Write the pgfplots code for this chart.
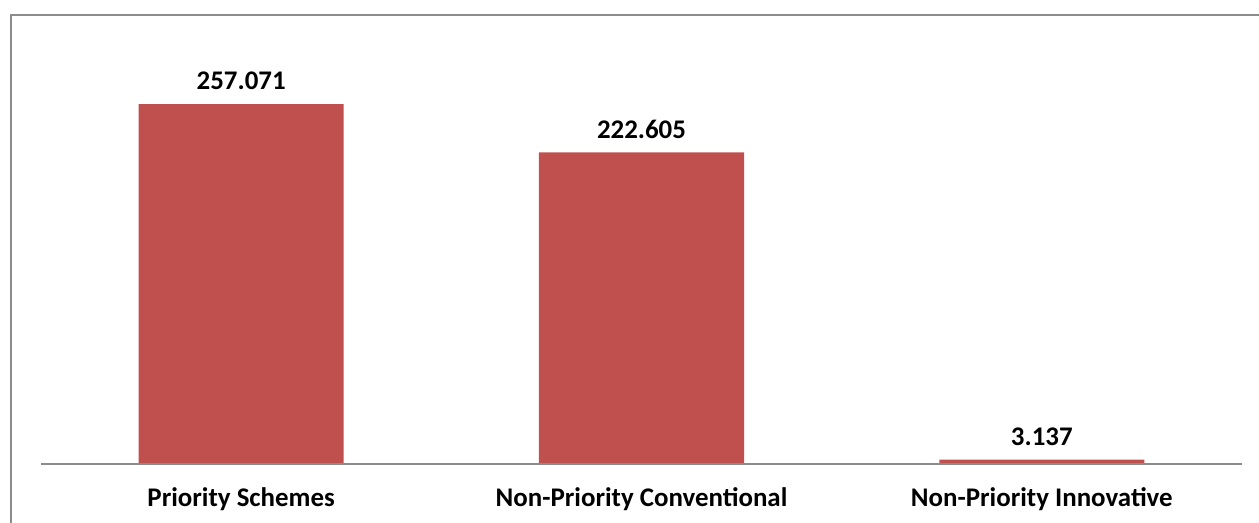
\documentclass[border=0pt]{standalone}
\usepackage{pgfplots}
\pgfplotsset{compat=1.18}
\usepackage{fontspec}
\setmainfont{Carlito}
\definecolor{barred}{HTML}{C0504D}
\definecolor{axgray}{HTML}{8C8C8C}
\begin{document}
\begin{tikzpicture}[x=1bp,y=1bp]
\useasboundingbox (0,0) rectangle (1259,523);
\begin{scope}
\clip (0,0) rectangle (1259,523);
\draw[axgray, line width=2.2bp] (11,-20) rectangle (1290,508);
\end{scope}
\begin{axis}[
  at={(41bp,59bp)}, anchor=south west,
  scale only axis, width=1201bp, height=420bp,
  xmin=-0.5, xmax=2.5, ymin=0, ymax=300,
  axis lines=none,
  ybar, bar width=205bp, bar shift=0pt,
  xtick=\empty,
  ytick=\empty,
  clip=false,
  /pgf/number format/assume math mode=true,
  nodes near coords,
  every node near coord/.append style={font=\bfseries\fontsize{27}{32}\selectfont, text=black, anchor=south, yshift=10.5bp},
  nodes near coords={\pgfmathprintnumber[fixed, precision=3, fixed zerofill, assume math mode=true]{\pgfplotspointmeta}},
]
\addplot[fill=barred, draw=none] coordinates {(0,257.071) (1,222.605) (2,3.137)};
\draw[axgray, line width=2bp] (axis cs:-0.5,0) -- (axis cs:2.5,0);
\node[font=\bfseries\fontsize{27}{32}\selectfont, anchor=base] at ([yshift=-43bp]axis cs:0,0) {Priority Schemes};
\node[font=\bfseries\fontsize{27}{32}\selectfont, anchor=base] at ([yshift=-43bp]axis cs:1,0) {Non-Priority Conventional};
\node[font=\bfseries\fontsize{27}{32}\selectfont, anchor=base] at ([yshift=-43bp]axis cs:2,0) {Non-Priority Innovative};
\end{axis}
\end{tikzpicture}
\end{document}
